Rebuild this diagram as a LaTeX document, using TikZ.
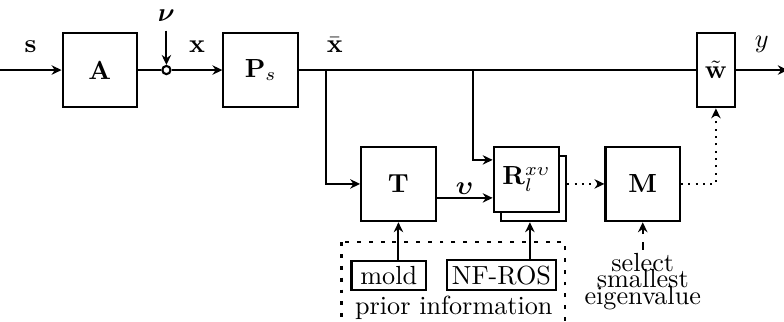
\documentclass[tikz,border=0pt]{standalone}
\usepackage{amsmath,amssymb,amsfonts}
\usepackage{tikz}
\usetikzlibrary{arrows.meta, positioning, calc}

\begin{document}
\begin{tikzpicture}[
    node distance=0.5cm,
    box/.style={rectangle, draw, thick, minimum size=1cm},
    tag/.style={rectangle, draw, thick, inner sep=2pt, minimum height=0.39cm},
    arrow/.style={-{Stealth[length=3.8pt, width=3.6pt]}, thick},
    dotarrow/.style={arrow, dotted},
    dasharrow/.style={arrow, dashed},
    lbl/.style={above=3pt}
]
\useasboundingbox (0,0) rectangle (10.52,-4.31);
\node[box] (A) at (1.34,-0.94) {$\mathbf{A}$};
\node[circle, draw, thick, inner sep=0pt, minimum size=0.11cm, right=0.31cm of A] (sum) {};
\node[box, right=1.13cm of A] (Ps) {$\mathbf{P}_s$};
\node[above=0.46cm of sum] (nu) {$\boldsymbol{\nu}$};
\node[box, below right=0.5cm and 0.82cm of Ps] (T) {$\mathbf{T}$};
\node[box, minimum size=0.875cm, anchor=south east] (Rb) at ($(T.south east)+(1.75,0)$) {};
\node[box, minimum size=0.875cm, fill=white, anchor=north west] (R) at ($(T.north east)+(0.75,0)$) {$\mathbf{R}_l^{x\upsilon}$};
\node[box, right=2.25cm of T] (M) {$\mathbf{M}$};
\node[box, minimum width=0.5cm, inner xsep=2pt, right=5.33cm of Ps] (w) {$\tilde{\mathbf{w}}$};
\coordinate[left=0.83cm of A] (in);
\coordinate[right=0.7cm of w] (out);
\coordinate[right=0.36cm of Ps] (b1);
\coordinate (b2) at ($(R.west |- Ps.east)+(-0.26,0)$);
\coordinate (Rin1) at ($(R.west)+(0,0.26)$);
\coordinate (Rin2) at ($(R.west)+(0,-0.25)$);
\coordinate (Rm) at ($(R.north west)!0.5!(Rb.south east)$);
% prior information
\node[tag, minimum width=1cm, below=0.5cm of T, xshift=-0.13cm] (mold) {mold};
\node[tag, right=0.25cm of mold] (nf) {NF-ROS};
\coordinate (pmid) at ($(mold.south west)!0.5!(nf.south east)$);
\node[inner sep=1pt, below=0.03cm of pmid] (prior) {prior information};
\node[align=center, inner sep=1pt, font={\fontsize{10pt}{6.4pt}\selectfont\lineskiplimit=-10pt}, below=0.37cm of M] (sel) {select\\smallest\\eigenvalue};
% connections
\draw[arrow] (in) -- node[lbl] (slbl) {$\mathbf{s}$} (A);
\draw[thick] (A) -- (sum);
\draw[arrow] (sum) -- node[lbl] (xlbl) {$\mathbf{x}$} (Ps);
\draw[arrow] (nu) -- (sum);
\draw[thick] (Ps) -- (w);
\node[lbl, xshift=0.12cm] (xbar) at (b1) {$\bar{\mathbf{x}}$};
\draw[arrow] (w) -- node[lbl] (ylbl) {$y$} (out);
\draw[arrow] (b1) |- (T);
\draw[arrow] (b2) |- (Rin1);
\draw[arrow] (T.east |- Rin2) -- node[above, inner sep=1pt] (vlbl) {$\boldsymbol{\upsilon}$} (Rin2);
\draw[dotarrow] (Rb.east |- M.west) -- (M);
\draw[dotarrow] (M) -| (w);
\draw[dasharrow] (sel) -- (M);
\draw[arrow] (T |- mold.north) -- (T);
\draw[arrow] (Rm |- nf.north) -- (Rm |- Rb.south);
\draw[thick, dash pattern=on 1.5pt off 3pt] ($(mold.north west)+(-0.12,0.23)$) rectangle ($(nf.east |- prior.south)+(0.11,0)$);
\end{tikzpicture}
\end{document}
